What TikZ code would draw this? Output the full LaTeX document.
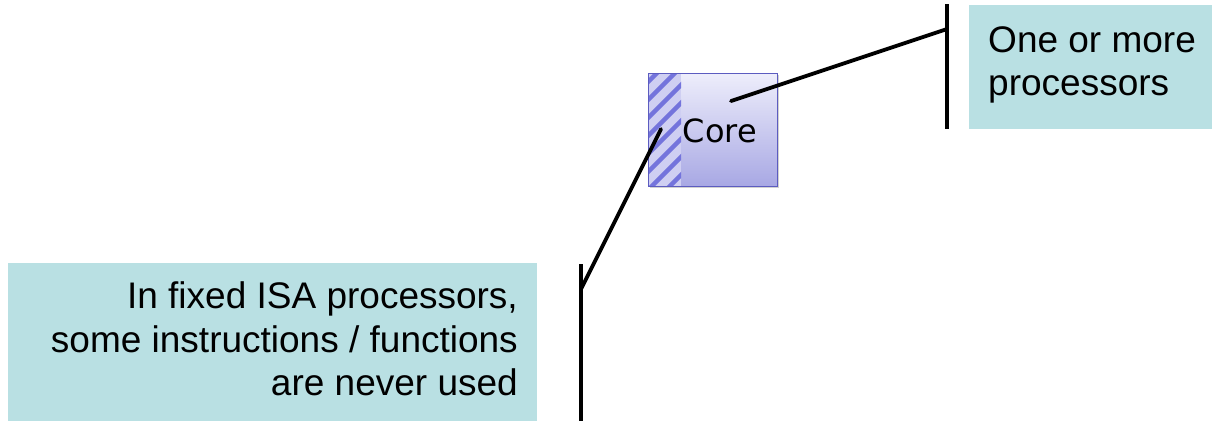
\documentclass[tikz,border=0pt]{standalone}
\usepackage{fontspec}
\setmainfont{Liberation Sans}
\newfontfamily\corefont{DejaVu Sans}
\definecolor{notefill}{HTML}{B9E0E3}
\definecolor{coretop}{HTML}{EEEEFB}
\definecolor{corebot}{HTML}{A8A8E4}
\definecolor{coreedge}{HTML}{5C5CC0}
\definecolor{hatchbg}{HTML}{CFCFF2}
\definecolor{hatchfg}{HTML}{7474DC}
\begin{document}
\begin{tikzpicture}[x=1pt,y=-1pt,
  notebox/.style={fill=notefill,draw=none},
  notetext/.style={inner sep=0pt,font=\fontsize{37}{43.5}\selectfont},
  bracket/.style={line width=3.8pt,line cap=butt},
  leader/.style={line width=3.8pt,line cap=round}]
\useasboundingbox (0,0) rectangle (1212,421);
% core block
\fill[black!18] (650,75) rectangle (779,188);
\shade[top color=coretop,bottom color=corebot] (648,73) rectangle (777,186);
\begin{scope}
  \clip (648,73) rectangle (681,186);
  \fill[hatchbg] (648,73) rectangle (681,186);
  \foreach \k in {0,...,10}{
    \draw[hatchfg,line width=4.5pt] (640,90+18*\k) -- (700,30+18*\k);
  }
\end{scope}
\draw[coreedge,line width=1pt] (648,73) rectangle (777,186);
\node[anchor=base,inner sep=0pt,font=\corefont\fontsize{32}{38}\selectfont] (core) at (720,142) {Core};
\coordinate (coreR) at (731,101);
\coordinate (coreL) at (661,129);
% right note
\fill[notebox] (969,5) rectangle (1212,129);
\node[notetext,anchor=north west,align=left] (right) at (988,26) {One or more\\processors};
\coordinate (rTop) at (947,4);
\coordinate (rBot) at (947,129);
\coordinate (rJoin) at (947,29);
\draw[bracket] (rTop) -- (rBot);
\draw[leader] (rJoin) -- (coreR);
% left note
\fill[notebox] (8,263) rectangle (537,421);
\node[notetext,anchor=north east,align=right] (left) at (518,281.5) {In fixed ISA processors,\\some instructions / functions\\are never used};
\coordinate (lTop) at (581,264);
\coordinate (lBot) at (581,421);
\coordinate (lJoin) at (581,289);
\draw[bracket] (lTop) -- (lBot);
\draw[leader] (lJoin) -- (coreL);
\end{tikzpicture}
\end{document}
